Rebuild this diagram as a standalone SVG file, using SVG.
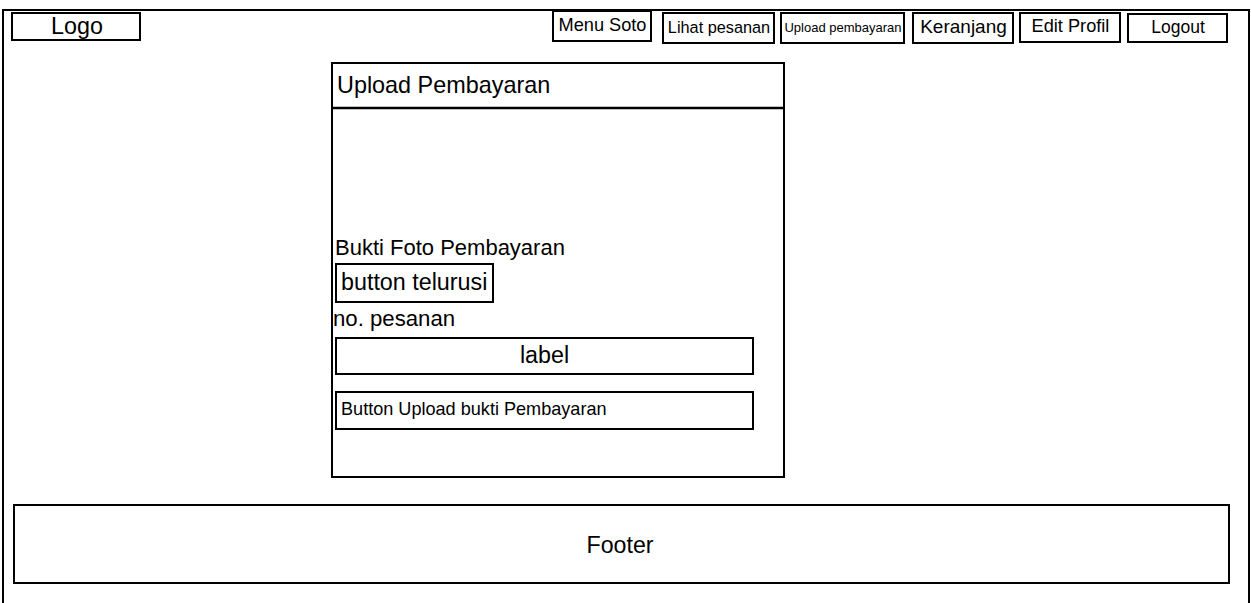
<svg xmlns="http://www.w3.org/2000/svg" width="1251" height="603" viewBox="0 0 1251 603">
<style>
.box{fill:#fff;stroke:#000;stroke-width:2}
.frame{fill:#fff;stroke:#000;stroke-width:2}
text{font-family:"Liberation Sans",Arial,sans-serif;fill:#000}
.c{text-anchor:middle}
</style>
<rect class="frame" x="3" y="10" width="1246" height="600"/>
<g id="logo"><rect class="box" x="12" y="13" width="128" height="27"/><text class="c" x="77" y="34" font-size="23.3">Logo</text></g>
<g id="menu-soto"><rect class="box" x="553" y="11" width="98" height="30"/><text class="c" x="602.5" y="31" font-size="18.2">Menu Soto</text></g>
<g id="lihat-pesanan"><rect class="box" x="663" y="13" width="111" height="30"/><text class="c" x="719" y="33" font-size="16.3">Lihat pesanan</text></g>
<g id="upload-pembayaran-menu"><rect class="box" x="781" y="13" width="123" height="30"/><text class="c" x="843" y="32" font-size="13">Upload pembayaran</text></g>
<g id="keranjang"><rect class="box" x="913" y="13" width="100" height="30"/><text class="c" x="963.5" y="33" font-size="19">Keranjang</text></g>
<g id="edit-profil"><rect class="box" x="1020" y="13" width="100" height="29"/><text class="c" x="1070.5" y="32" font-size="18.2">Edit Profil</text></g>
<g id="logout"><rect class="box" x="1128" y="14" width="99" height="28"/><text class="c" x="1178" y="33" font-size="17.5">Logout</text></g>
<g id="panel">
<rect class="box" x="332" y="63" width="452" height="414"/>
<line x1="332" y1="108" x2="784" y2="108" stroke="#000" stroke-width="2.5"/>
<text x="337" y="93" font-size="23.4">Upload Pembayaran</text>
</g>
<g id="bukti-label"><text x="335" y="255" font-size="22">Bukti Foto Pembayaran</text></g>
<g id="button-telurusi"><rect class="box" x="336" y="264" width="157" height="38"/><text x="341" y="290" font-size="23.3">button telurusi</text></g>
<g id="no-pesanan"><text x="333" y="326" font-size="22.2">no. pesanan</text></g>
<g id="label"><rect class="box" x="336" y="338" width="417" height="36"/><text class="c" x="544.5" y="363" font-size="23.3">label</text></g>
<g id="button-upload"><rect class="box" x="336" y="392" width="417" height="37"/><text x="341" y="415" font-size="18.1">Button Upload bukti Pembayaran</text></g>
<g id="footer"><rect class="box" x="14" y="505" width="1215" height="78"/><text class="c" x="620" y="553" font-size="23.2">Footer</text></g>
<g id="connectors"></g>
</svg>
